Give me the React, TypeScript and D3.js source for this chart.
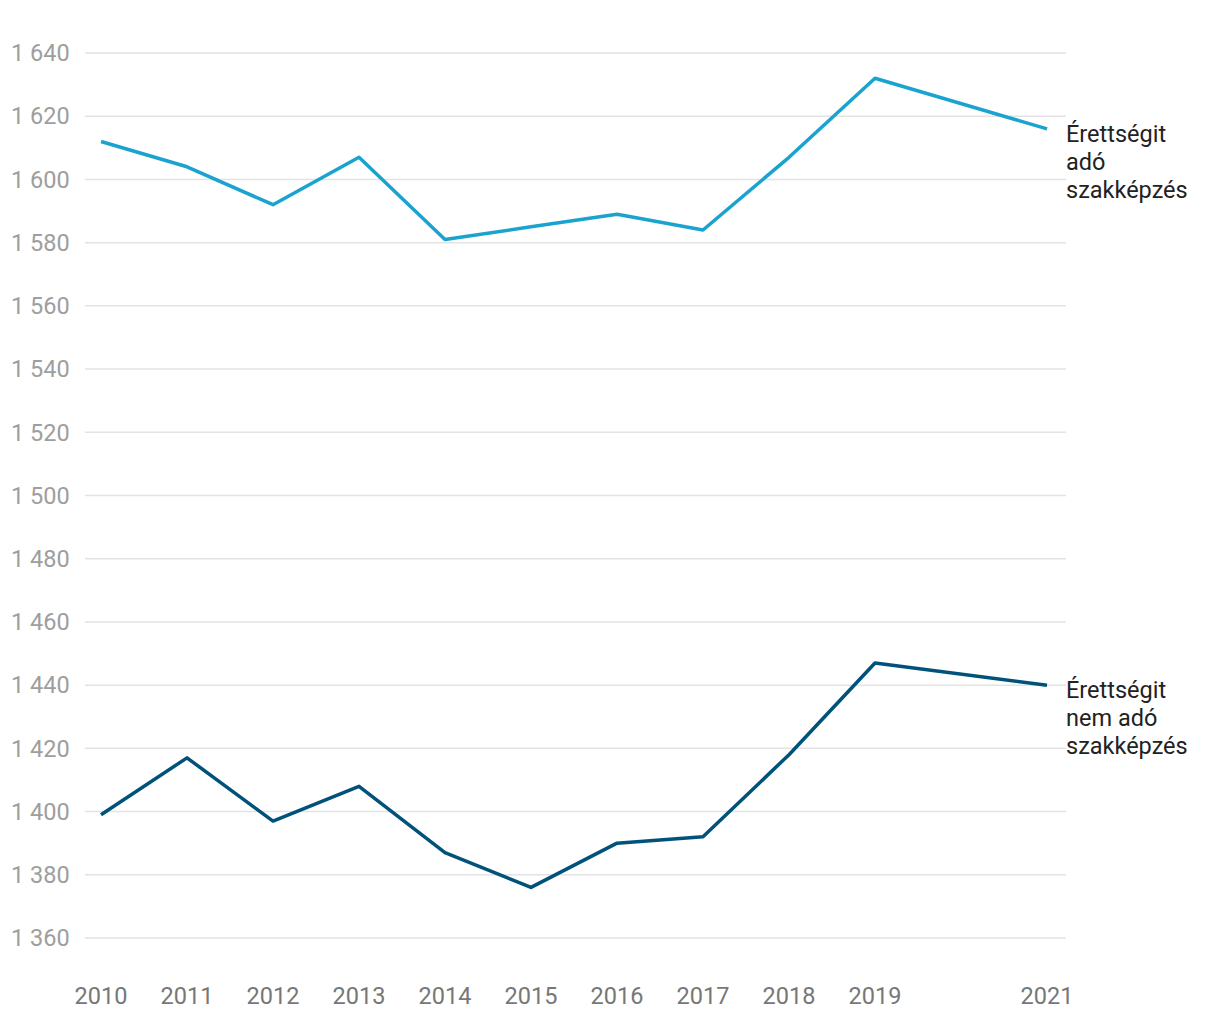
import * as d3 from 'd3';

const years = [2010, 2011, 2012, 2013, 2014, 2015, 2016, 2017, 2018, 2019, 2021];
const withMatura = [1612, 1604, 1592, 1607, 1581, 1585, 1589, 1584, 1607, 1632, 1616];
const withoutMatura = [1399, 1417, 1397, 1408, 1387, 1376, 1390, 1392, 1418, 1447, 1440];
const yTicks = [1360, 1380, 1400, 1420, 1440, 1460, 1480, 1500, 1520, 1540, 1560, 1580, 1600, 1620, 1640];
const seriesNames = [
  ['Érettségit', 'adó', 'szakképzés'],
  ['Érettségit', 'nem adó', 'szakképzés'],
];

const W = 1220;
const H = 1020;
const font = 'Roboto, sans-serif';

const hu = d3.formatLocale({ decimal: ',', thousands: ' ', grouping: [3], currency: ['', ''] });
const fmt = hu.format(',');

export default function App() {
  const x = d3.scaleLinear().domain([2010, 2021]).range([101, 1047]);
  const y = d3.scaleLinear().domain([1360, 1640]).range([938, 53]);
  const line = d3
    .line<number>()
    .x((_, i) => x(years[i]))
    .y((d) => y(d));

  const series = [
    { values: withMatura, color: '#1ba3d0', label: seriesNames[0] },
    { values: withoutMatura, color: '#00527a', label: seriesNames[1] },
  ];

  return (
    <svg width={W} height={H} style={{ position: 'absolute', left: 0, top: 0 }} fontFamily={font}>
      <rect width={W} height={H} fill="#fff" />
      <g className="grid">
        {yTicks.map((t) => (
          <g key={t}>
            <line x1={85} x2={1066} y1={y(t)} y2={y(t)} stroke="#e3e3e3" strokeWidth={1.5} />
            <text x={11} y={y(t)} dy="0.35em" fontSize={23.5} fill="#9e9e9e">
              {fmt(t)}
            </text>
          </g>
        ))}
      </g>
      <g className="x-axis">
        {years.map((yr) => (
          <text key={yr} x={x(yr)} y={996} dy="0.35em" textAnchor="middle" fontSize={23.5} fill="#777">
            {yr}
          </text>
        ))}
      </g>
      {series.map((s, k) => {
        const last = s.values[s.values.length - 1];
        return (
          <g key={k}>
            <path d={line(s.values) ?? ''} fill="none" stroke={s.color} strokeWidth={3.5} strokeLinejoin="round" />
            <text x={1066} y={y(last)} fontSize={23.5} fill="#222">
              {s.label.map((l, i) => (
                <tspan key={i} x={1066} y={y(last) + 5 + i * 28} dy="0.35em">
                  {l}
                </tspan>
              ))}
            </text>
          </g>
        );
      })}
    </svg>
  );
}
